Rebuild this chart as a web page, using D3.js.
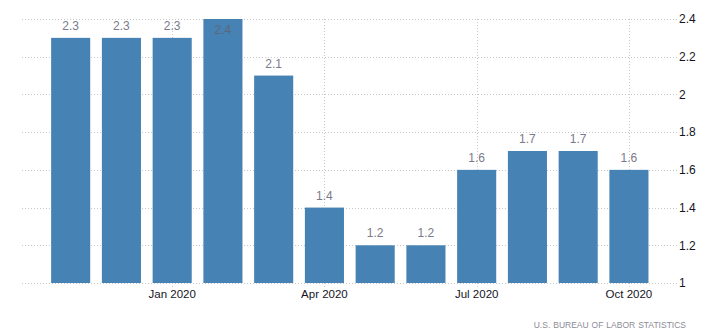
<!DOCTYPE html>
<html>
<head>
<meta charset="utf-8">
<script src="https://cdn.jsdelivr.net/npm/d3@7"></script>
<style>
  html, body { margin: 0; padding: 0; background: #fff; }
  svg { display: block; }
</style>
</head>
<body>
<svg id="chart" width="722" height="336"></svg>
<script>
// Monthly rate, Nov 2019 – Oct 2020
const months = ["2019-11", "2019-12", "2020-01", "2020-02", "2020-03", "2020-04",
                "2020-05", "2020-06", "2020-07", "2020-08", "2020-09", "2020-10"];
const values = [2.3, 2.3, 2.3, 2.4, 2.1, 1.4, 1.2, 1.2, 1.6, 1.7, 1.7, 1.6];
const yTicks = [1, 1.2, 1.4, 1.6, 1.8, 2, 2.2, 2.4];
const xTickMonths = ["2020-01", "2020-04", "2020-07", "2020-10"];
const xTickLabels = ["Jan 2020", "Apr 2020", "Jul 2020", "Oct 2020"];
const sourceText = "U.S. BUREAU OF LABOR STATISTICS";

const svg = d3.select("#chart");
const plot = { left: 22, right: 677, top: 19, bottom: 283 };
const font = "'Liberation Sans', Arial, sans-serif";

const x = d3.scaleBand()
  .domain(months)
  .range([45.3, 654.3])
  .paddingInner(0.23)
  .paddingOuter(0.115);

const y = d3.scaleLinear()
  .domain([1, 2.4])
  .range([plot.bottom, plot.top]);

const grid = svg.append("g");

// horizontal dotted grid lines
grid.selectAll("line.h")
  .data(yTicks)
  .join("line")
  .attr("class", "h")
  .attr("x1", plot.left)
  .attr("x2", plot.right)
  .attr("y1", d => Math.round(y(d)) + 0.5)
  .attr("y2", d => Math.round(y(d)) + 0.5)
  .attr("stroke", "#c8c8c8")
  .attr("stroke-width", 1)
  .attr("stroke-dasharray", "1,2");

// vertical dotted grid lines at the labelled months
const cx = m => x(m) + x.bandwidth() / 2;
grid.selectAll("line.v")
  .data(xTickMonths)
  .join("line")
  .attr("class", "v")
  .attr("x1", d => Math.round(cx(d)) + 0.5)
  .attr("x2", d => Math.round(cx(d)) + 0.5)
  .attr("y1", plot.top)
  .attr("y2", plot.bottom + 5)
  .attr("stroke", "#c8c8c8")
  .attr("stroke-width", 1)
  .attr("stroke-dasharray", "1,2");

// bars
svg.append("g")
  .selectAll("rect")
  .data(months.map((m, i) => ({ m, v: values[i] })))
  .join("rect")
  .attr("x", d => x(d.m))
  .attr("width", x.bandwidth())
  .attr("y", d => y(d.v))
  .attr("height", d => y(1) - y(d.v))
  .attr("fill", "#4682b4");

// value labels: above the bar, or inside when the bar reaches the top
svg.append("g")
  .selectAll("text")
  .data(months.map((m, i) => ({ m, v: values[i] })))
  .join("text")
  .attr("x", d => cx(d.m))
  .attr("y", d => y(d.v) <= plot.top + 2 ? y(d.v) + 15 : y(d.v) - 8)
  .attr("text-anchor", "middle")
  .attr("font-family", font)
  .attr("font-size", 12)
  .attr("fill", d => y(d.v) <= plot.top + 2 ? "#5f6678" : "#7a7a8a")
  .text(d => d3.format(".1f")(d.v));

// right-hand value axis
const yAxis = d3.axisRight(y)
  .tickValues(yTicks)
  .tickSize(0)
  .tickPadding(0)
  .tickFormat(d3.format("~g"));
const ya = svg.append("g")
  .attr("transform", `translate(${plot.right + 2},0)`)
  .call(yAxis);
ya.select(".domain").remove();
ya.selectAll("text")
  .attr("font-family", font)
  .attr("font-size", 12)
  .attr("fill", "#141424");

// bottom month axis
const xAxis = d3.axisBottom(x)
  .tickValues(xTickMonths)
  .tickSize(0)
  .tickPadding(0)
  .tickFormat((d, i) => xTickLabels[i]);
const xa = svg.append("g")
  .attr("transform", `translate(0,${plot.bottom + 7})`)
  .call(xAxis);
xa.select(".domain").remove();
xa.selectAll("text")
  .attr("font-family", font)
  .attr("font-size", 11.5)
  .attr("fill", "#141424");

// source note
svg.append("text")
  .attr("x", 686)
  .attr("y", 328)
  .attr("text-anchor", "end")
  .attr("font-family", font)
  .attr("font-size", 8.5)
  .attr("letter-spacing", 0)
  .attr("word-spacing", 0.6)
  .attr("fill", "#8c8c96")
  .text(sourceText);
</script>
</body>
</html>
